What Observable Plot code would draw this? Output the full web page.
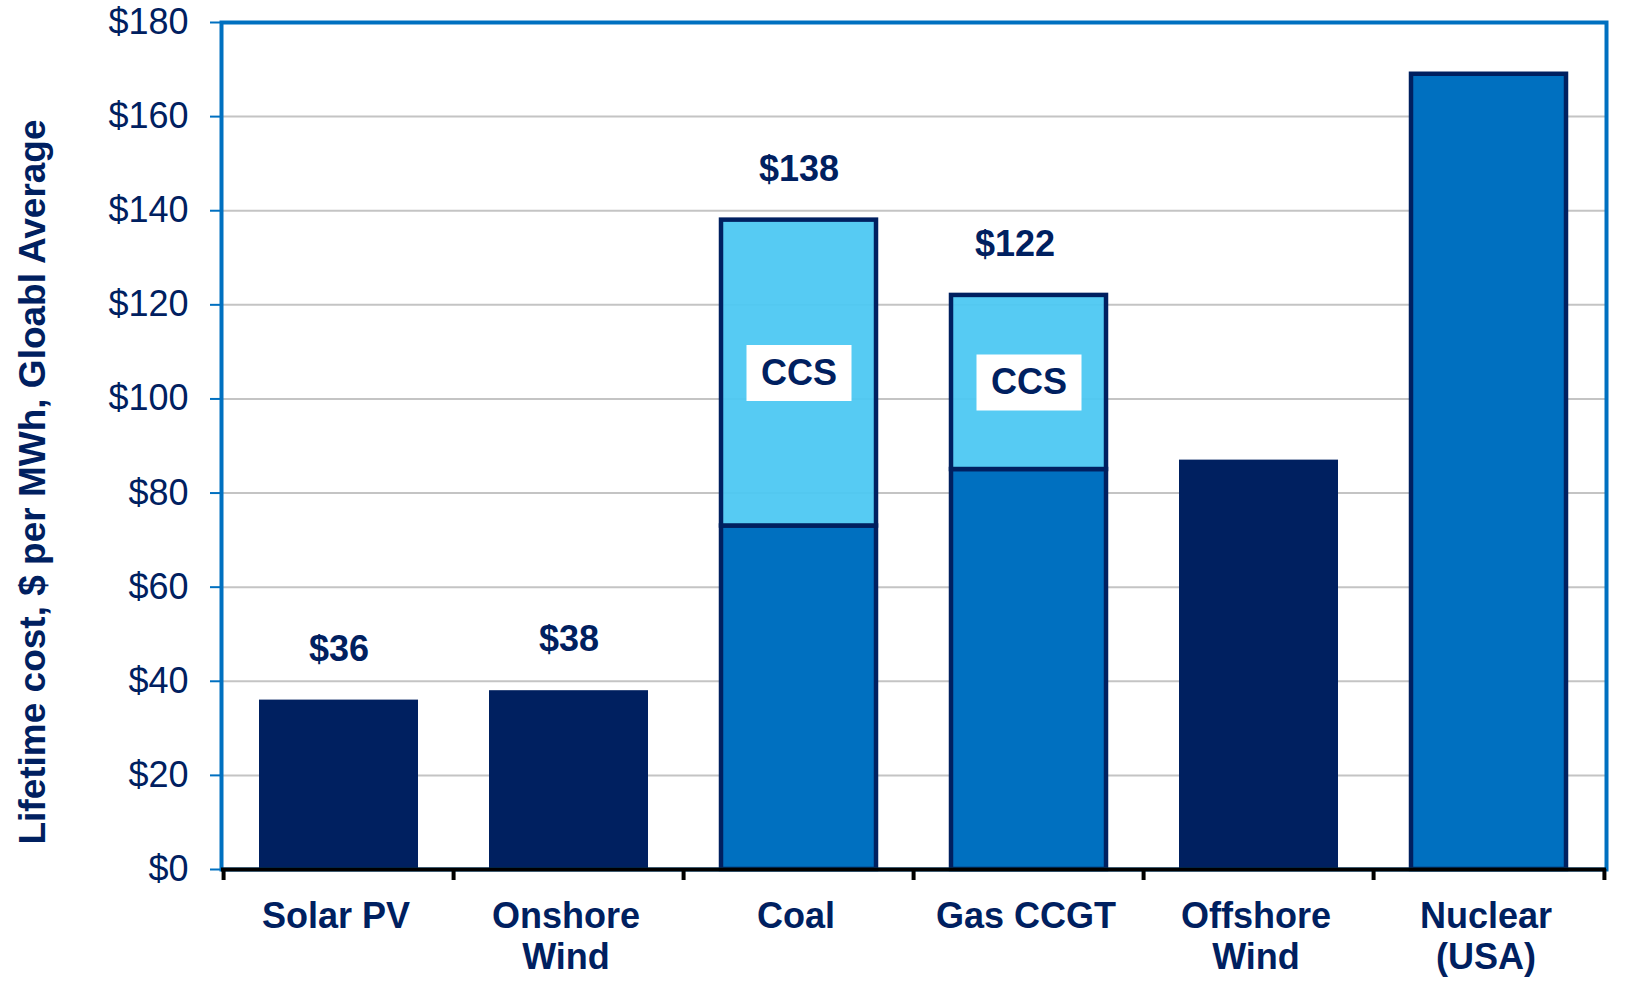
<!DOCTYPE html>
<html>
<head>
<meta charset="utf-8">
<script src="https://cdn.jsdelivr.net/npm/d3@7"></script>
<script src="https://cdn.jsdelivr.net/npm/@observablehq/plot@0.6"></script>
<style>
  html, body { margin: 0; padding: 0; background: #ffffff; }
  #chart { width: 1650px; height: 990px; }
  #chart g[aria-label="y-axis tick label"] { fill: #002060; }
</style>
</head>
<body>
<div id="chart"></div>
<script>
// ---- data ----
const categories = ["Solar PV", "Onshore\nWind", "Coal", "Gas CCGT", "Offshore\nWind", "Nuclear\n(USA)"];
const technology = ["renewable", "renewable", "conventional", "conventional", "renewable", "conventional"];
const baseCost = [36, 38, 73, 85, 87, 169];
const ccsCost = [0, 0, 65, 37, 0, 0];
const showTotal = [true, true, true, true, false, false];
const yTicks = [0, 20, 40, 60, 80, 100, 120, 140, 160, 180];
const yTitle = "Lifetime cost, $ per MWh, Gloabl Average";
const ccsText = "CCS";

// ---- layout / style ----
const W = 1650, H = 990;
const mL = 221, mR = 44, mT = 22, mB = 121;
const step = (W - mL - mR) / categories.length;
const navy = "#002060", blue = "#0070c0", light = "#4dc8f2";
const font = "'Liberation Sans', Arial, sans-serif";

const rows = categories.map((c, i) => ({
  category: c,
  tech: technology[i],
  base: baseCost[i],
  ccs: ccsCost[i],
  total: baseCost[i] + ccsCost[i],
  mid: baseCost[i] + ccsCost[i] / 2,
  show: showTotal[i]
}));

const boxSymbol = { draw(ctx) { ctx.rect(-52.5, -28, 105, 56); } };

const chart = Plot.plot({
  width: W,
  height: H,
  marginLeft: mL,
  marginRight: mR,
  marginTop: mT,
  marginBottom: mB,
  style: { fontFamily: font, background: "#ffffff" },
  x: { type: "band", domain: categories, paddingInner: 0.31, paddingOuter: 0.155, axis: null },
  y: { domain: [0, 180], axis: null },
  color: { domain: ["renewable", "conventional"], range: [navy, blue] },
  marks: [
    Plot.ruleY(yTicks.filter(d => d > 0 && d < 180), { stroke: "#c4c4c4", strokeWidth: 2 }),
    Plot.barY(rows.filter(d => d.tech === "renewable"), {
      x: "category", y1: 0, y2: "base", fill: "tech"
    }),
    Plot.barY(rows.filter(d => d.tech === "conventional"), {
      x: "category", y1: 0, y2: "base", fill: "tech",
      stroke: navy, strokeWidth: 4.5, insetLeft: 2, insetRight: 2
    }),
    Plot.barY(rows.filter(d => d.ccs > 0), {
      x: "category", y1: "base", y2: "total", fill: light, fillOpacity: 0.95,
      stroke: navy, strokeWidth: 4.5, insetLeft: 2, insetRight: 2
    }),
    Plot.frame({ stroke: blue, strokeWidth: 4 }),
    Plot.ruleY([0], { stroke: "#000000", strokeWidth: 4 }),
    Plot.ruleX(categories, {
      x: d => d, y1: 0, y2: 0, insetBottom: -11, dx: -step / 2,
      stroke: "#000000", strokeWidth: 4
    }),
    Plot.ruleX(categories.slice(-1), {
      x: d => d, y1: 0, y2: 0, insetBottom: -11, dx: step / 2,
      stroke: "#000000", strokeWidth: 4
    }),
    Plot.axisY(yTicks, {
      anchor: "left", tickSize: 11, tickPadding: 22, strokeWidth: 2,
      color: blue, fontSize: 36, tickFormat: d => `$${d}`, label: null
    }),
    Plot.text(categories, {
      x: d => d, frameAnchor: "bottom", lineAnchor: "top", dy: 29, dx: -3, lineHeight: 1.14,
      text: d => d, fontSize: 36, fontWeight: "bold", fill: navy
    }),
    Plot.text(rows.filter(d => d.show && d.category !== "Gas CCGT"), {
      x: "category", y: "total", text: d => `$${d.total}`, dy: -51, lineAnchor: "middle",
      fontSize: 36, fontWeight: "bold", fill: navy
    }),
    Plot.text(rows.filter(d => d.show && d.category === "Gas CCGT"), {
      x: "category", y: "total", text: d => `$${d.total}`, dy: -51, dx: -14, lineAnchor: "middle",
      fontSize: 36, fontWeight: "bold", fill: navy
    }),
    Plot.dot(rows.filter(d => d.ccs > 0), {
      x: "category", y: "mid", symbol: boxSymbol, r: 10, fill: "#ffffff", stroke: null
    }),
    Plot.text(rows.filter(d => d.ccs > 0), {
      x: "category", y: "mid", text: () => ccsText, lineAnchor: "middle",
      fontSize: 36, fontWeight: "bold", fill: navy
    }),
    Plot.text([yTitle], {
      frameAnchor: "left", text: d => d, rotate: -90, dx: -188, dy: 36,
      textAnchor: "middle", lineAnchor: "middle", fontSize: 37, fontWeight: "bold", fill: navy
    })
  ]
});

document.getElementById("chart").appendChild(chart);
</script>
</body>
</html>
